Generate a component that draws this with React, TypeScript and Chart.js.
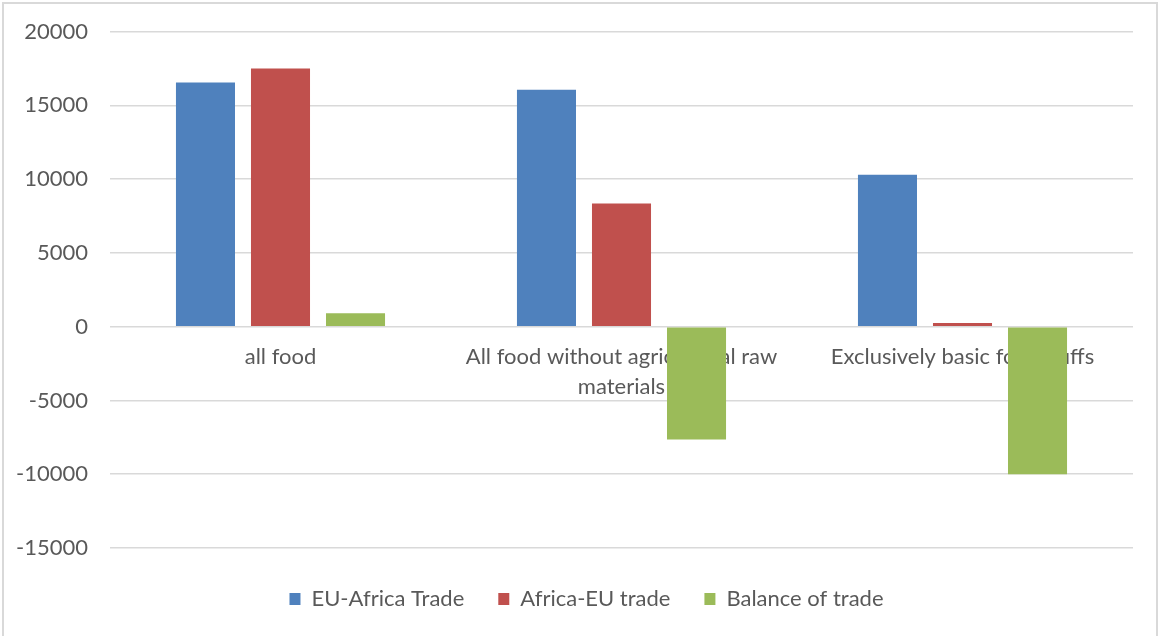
import React, { useEffect, useRef } from "react";
import { Chart, registerables } from "chart.js";

Chart.register(...registerables);

const categories: (string | string[])[] = [
  "all food",
  ["All food without agricultural raw", "materials"],
  "Exclusively basic foodstuffs",
];
const euAfricaTrade = [16550, 16050, 10300];
const africaEuTrade = [17500, 8350, 250];
const balanceOfTrade = [900, -7650, -10000];
const seriesNames = ["EU-Africa Trade", "Africa-EU trade", "Balance of trade"];
const seriesColors = ["#4f81bd", "#c0504d", "#9bbb59"];
const yMin = -15000;
const yMax = 20000;
const yStep = 5000;

const FONT = "Lato";
const TEXT = "#595959";

const shiftLegend = {
  id: "shiftLegend",
  afterLayout(chart: any) {
    const l = chart.legend;
    if (l) {
      l.top += 6;
      l.bottom += 6;
      l.left += 20;
      l.right += 20;
    }
  },
};

export default function App() {
  const ref = useRef<HTMLCanvasElement | null>(null);

  useEffect(() => {
    document.body.style.margin = "0";
    const canvas = ref.current;
    if (!canvas) return;
    const values = [euAfricaTrade, africaEuTrade, balanceOfTrade];
    const chart = new Chart(canvas, {
      type: "bar",
      data: {
        labels: categories,
        datasets: values.map((v, i) => ({
          label: seriesNames[i],
          data: v,
          backgroundColor: seriesColors[i],
          borderWidth: 0,
          categoryPercentage: 0.66,
          barPercentage: 0.787,
        })),
      },
      plugins: [shiftLegend],
      options: {
        animation: false,
        responsive: false,
        maintainAspectRatio: false,
        layout: { padding: { left: 0, right: 28, top: 31.5, bottom: 22 } },
        plugins: {
          tooltip: { enabled: false },
          legend: {
            position: "bottom",
            labels: {
              color: TEXT,
              font: { family: FONT, size: 22 },
              boxWidth: 11,
              boxHeight: 12,
              padding: 34,
            },
          },
        },
        scales: {
          x: {
            position: { y: 0 } as any,
            grid: { display: false, drawTicks: false },
            border: { display: false },
            ticks: {
              color: TEXT,
              font: { family: FONT, size: 22, lineHeight: "30px" as any },
              padding: 15,
              maxRotation: 0,
              autoSkip: false,
            },
          },
          y: {
            min: yMin,
            max: yMax,
            afterFit: (scale: any) => {
              scale.width = 110;
              scale.paddingTop = 0;
              scale.paddingBottom = 0;
            },
            grid: { color: "#d9d9d9", lineWidth: 1.5, drawTicks: false },
            border: { display: false },
            ticks: {
              stepSize: yStep,
              color: TEXT,
              font: { family: FONT, size: 22 },
              padding: 22,
              callback: (v: any) => String(v),
            },
          },
        },
      },
    });
    return () => chart.destroy();
  }, []);

  return (
    <div style={{ position: "relative", width: 1161, height: 636, background: "#fff" }}>
      <div
        style={{
          position: "absolute",
          left: 2,
          top: 2,
          width: 1156,
          height: 640,
          border: "2px solid #d9d9d9",
          boxSizing: "border-box",
        }}
      />
      <canvas ref={ref} width={1161} height={636} style={{ position: "absolute", left: 0, top: 0 }} />
    </div>
  );
}
